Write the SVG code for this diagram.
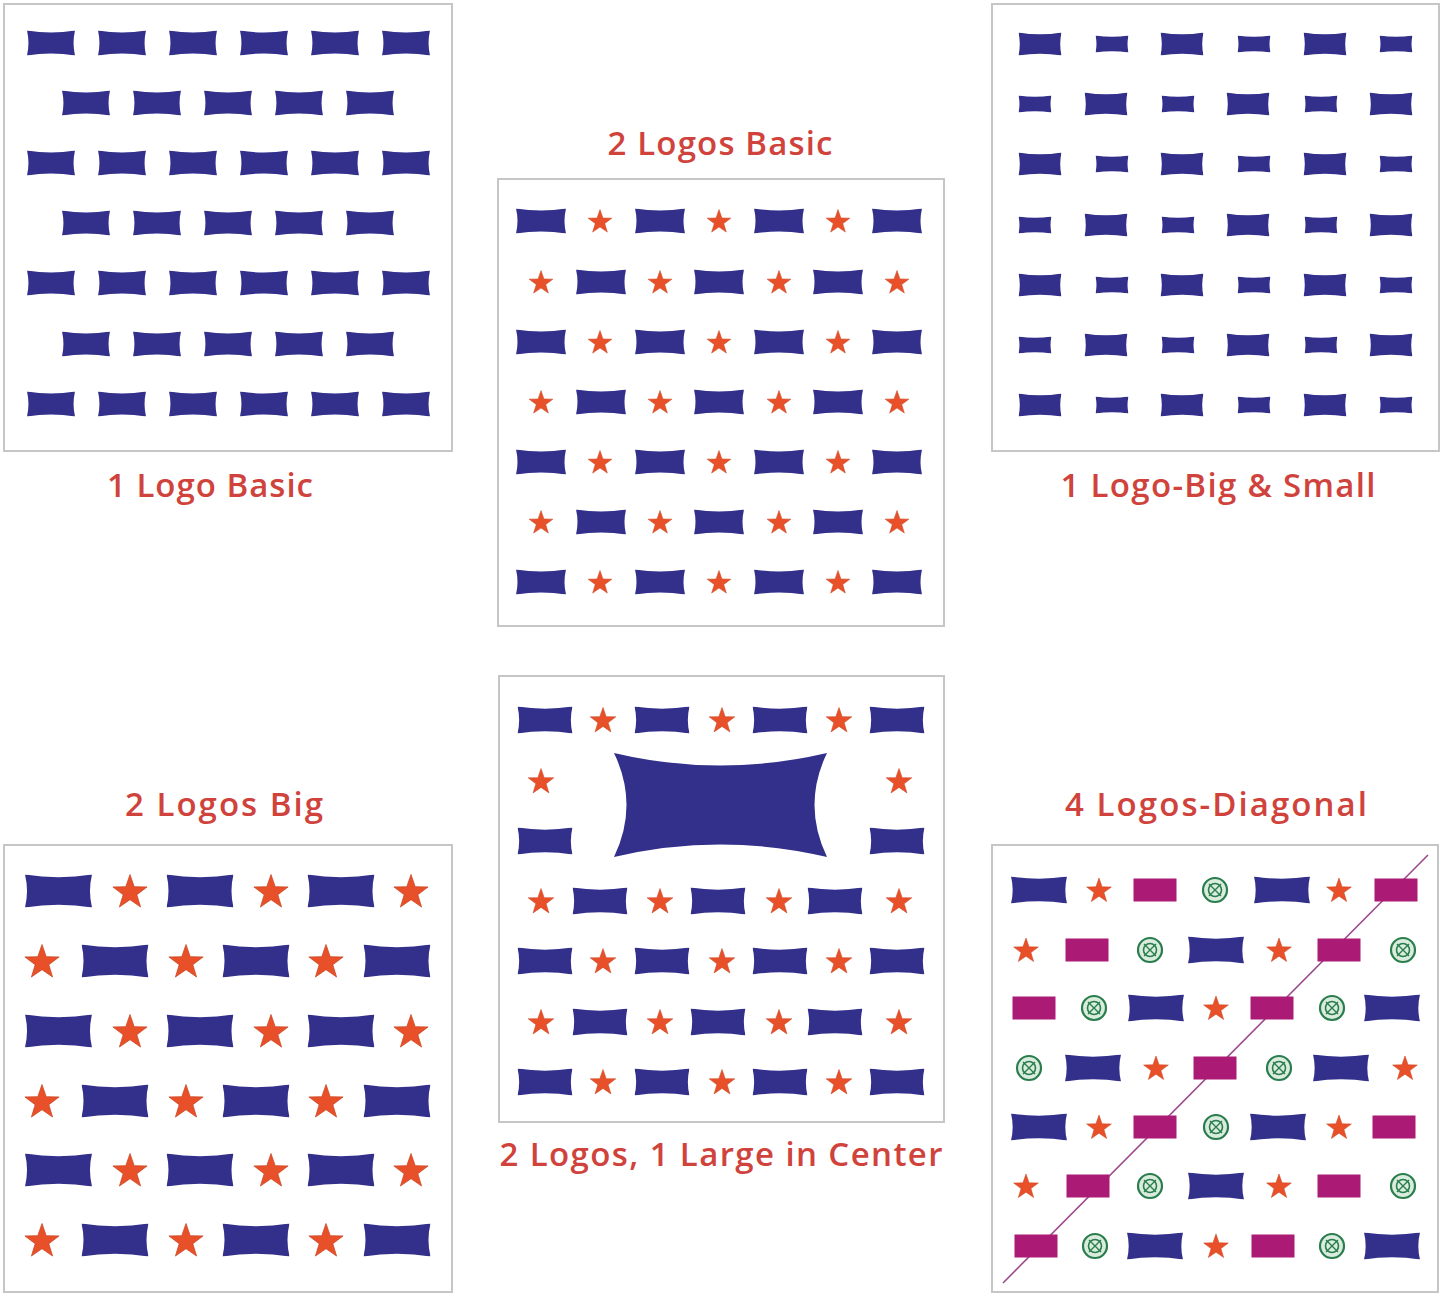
<svg xmlns="http://www.w3.org/2000/svg" xmlns:xlink="http://www.w3.org/1999/xlink" width="1445" height="1298" viewBox="0 0 1445 1298">
<style>
.frame{fill:#fff;stroke:#c6c6c6;stroke-width:2}
.lbl{font-family:"Open Sans","Liberation Sans",sans-serif;font-weight:600;font-size:33px;fill:#d0433c;text-anchor:middle}
.navy{fill:#33308c}
.star{fill:#e8502a;stroke:#c8431f;stroke-width:0.4}
.mag{fill:#ab1a74}
</style>
<defs>
<symbol id="logo" viewBox="0 0 100 50" preserveAspectRatio="none"><path class="navy" d="M0,0 Q50,8 100,0 Q94,25 100,50 Q50,42 0,50 Q6,25 0,0Z"/></symbol>
<path id="star" class="star" d="M0,-10 L2.35,-3.24 L9.51,-3.09 L3.8,1.24 L5.88,8.09 L0,4 L-5.88,8.09 L-3.8,1.24 L-9.51,-3.09 L-2.35,-3.24Z"/>
<g id="gl"><circle r="12" fill="#d9ecdd" stroke="#2a7d4c" stroke-width="2.2"/><circle r="6.5" fill="none" stroke="#2a7d4c" stroke-width="1.6"/><path d="M-6,-6 L6,6 M6,-6 L-6,6" stroke="#2a7d4c" stroke-width="1.4"/></g>
<g id="p1A"><use href="#logo" x="27" y="-12.5" width="48" height="25"/><use href="#logo" x="98" y="-12.5" width="48" height="25"/><use href="#logo" x="169" y="-12.5" width="48" height="25"/><use href="#logo" x="240" y="-12.5" width="48" height="25"/><use href="#logo" x="311" y="-12.5" width="48" height="25"/><use href="#logo" x="382" y="-12.5" width="48" height="25"/></g>
<g id="p1B"><use href="#logo" x="62" y="-12.5" width="48" height="25"/><use href="#logo" x="133" y="-12.5" width="48" height="25"/><use href="#logo" x="204" y="-12.5" width="48" height="25"/><use href="#logo" x="275" y="-12.5" width="48" height="25"/><use href="#logo" x="346" y="-12.5" width="48" height="25"/></g>
<g id="p3A"><use href="#logo" x="1018.5" y="-11.5" width="43" height="23"/><use href="#logo" x="1160.5" y="-11.5" width="43" height="23"/><use href="#logo" x="1303.5" y="-11.5" width="43" height="23"/><use href="#logo" x="1095.5" y="-8.5" width="33" height="17"/><use href="#logo" x="1237.5" y="-8.5" width="33" height="17"/><use href="#logo" x="1379.5" y="-8.5" width="33" height="17"/></g>
<g id="p3B"><use href="#logo" x="1018.5" y="-8.5" width="33" height="17"/><use href="#logo" x="1161.5" y="-8.5" width="33" height="17"/><use href="#logo" x="1304.5" y="-8.5" width="33" height="17"/><use href="#logo" x="1084.5" y="-11.5" width="43" height="23"/><use href="#logo" x="1226.5" y="-11.5" width="43" height="23"/><use href="#logo" x="1369.5" y="-11.5" width="43" height="23"/></g>
<g id="p2A"><use href="#logo" x="516" y="-12.5" width="50" height="25"/><use href="#logo" x="635" y="-12.5" width="50" height="25"/><use href="#logo" x="754" y="-12.5" width="50" height="25"/><use href="#logo" x="872" y="-12.5" width="50" height="25"/><use href="#star" transform="translate(600,1) scale(1.25)"/><use href="#star" transform="translate(719,1) scale(1.25)"/><use href="#star" transform="translate(838,1) scale(1.25)"/></g>
<g id="p2B"><use href="#star" transform="translate(541,1) scale(1.25)"/><use href="#star" transform="translate(660,1) scale(1.25)"/><use href="#star" transform="translate(779,1) scale(1.25)"/><use href="#star" transform="translate(897,1) scale(1.25)"/><use href="#logo" x="576" y="-12.5" width="50" height="25"/><use href="#logo" x="694" y="-12.5" width="50" height="25"/><use href="#logo" x="813" y="-12.5" width="50" height="25"/></g>
<g id="p4A"><use href="#logo" x="25" y="-16.5" width="67" height="33"/><use href="#logo" x="166.5" y="-16.5" width="67" height="33"/><use href="#logo" x="307.5" y="-16.5" width="67" height="33"/><use href="#star" transform="translate(130,1.5) scale(1.8)"/><use href="#star" transform="translate(271,1.5) scale(1.8)"/><use href="#star" transform="translate(411,1.5) scale(1.8)"/></g>
<g id="p4B"><use href="#star" transform="translate(42,1.5) scale(1.8)"/><use href="#star" transform="translate(186,1.5) scale(1.8)"/><use href="#star" transform="translate(326,1.5) scale(1.8)"/><use href="#logo" x="81.5" y="-16.5" width="67" height="33"/><use href="#logo" x="222.5" y="-16.5" width="67" height="33"/><use href="#logo" x="363.5" y="-16.5" width="67" height="33"/></g>
<g id="p5A"><use href="#logo" x="517.5" y="-13.5" width="55" height="27"/><use href="#logo" x="634.5" y="-13.5" width="55" height="27"/><use href="#logo" x="752.5" y="-13.5" width="55" height="27"/><use href="#logo" x="869.5" y="-13.5" width="55" height="27"/><use href="#star" transform="translate(603,1) scale(1.35)"/><use href="#star" transform="translate(722,1) scale(1.35)"/><use href="#star" transform="translate(839,1) scale(1.35)"/></g>
<g id="p5B"><use href="#star" transform="translate(541,1) scale(1.35)"/><use href="#star" transform="translate(660,1) scale(1.35)"/><use href="#star" transform="translate(779,1) scale(1.35)"/><use href="#star" transform="translate(899,1) scale(1.35)"/><use href="#logo" x="572.5" y="-13.5" width="55" height="27"/><use href="#logo" x="690.5" y="-13.5" width="55" height="27"/><use href="#logo" x="807.5" y="-13.5" width="55" height="27"/></g>
</defs>
<rect width="1445" height="1298" fill="#fff"/>

<g id="panel-1-logo-basic">
<rect class="frame" x="4" y="4" width="448" height="447"/>
<use href="#p1A" y="43"/><use href="#p1B" y="103"/><use href="#p1A" y="163"/><use href="#p1B" y="223"/><use href="#p1A" y="283"/><use href="#p1B" y="344"/><use href="#p1A" y="404"/>
<text class="lbl" x="210" y="497" textLength="206" lengthAdjust="spacing">1 Logo Basic</text>
</g>

<g id="panel-2-logos-basic">
<text class="lbl" x="720" y="155" textLength="225" lengthAdjust="spacing">2 Logos Basic</text>
<rect class="frame" x="498" y="179" width="446" height="447"/>
<use href="#p2A" y="221"/><use href="#p2B" y="282"/><use href="#p2A" y="342"/><use href="#p2B" y="402"/><use href="#p2A" y="462"/><use href="#p2B" y="522"/><use href="#p2A" y="582"/>
</g>

<g id="panel-1-logo-big-small">
<rect class="frame" x="992" y="4" width="447" height="447"/>
<use href="#p3A" y="44"/><use href="#p3B" y="104"/><use href="#p3A" y="164"/><use href="#p3B" y="225"/><use href="#p3A" y="285"/><use href="#p3B" y="345"/><use href="#p3A" y="405"/>
<text class="lbl" x="1218" y="497" textLength="315" lengthAdjust="spacing">1 Logo-Big &amp; Small</text>
</g>

<g id="panel-2-logos-big">
<text class="lbl" x="224" y="816" textLength="198" lengthAdjust="spacing">2 Logos Big</text>
<rect class="frame" x="4" y="845" width="448" height="447"/>
<use href="#p4A" y="891"/><use href="#p4B" y="961"/><use href="#p4A" y="1031"/><use href="#p4B" y="1101"/><use href="#p4A" y="1170"/><use href="#p4B" y="1240"/>
</g>

<g id="panel-2-logos-1-large">
<rect class="frame" x="499" y="676" width="445" height="446"/>
<use href="#p5A" y="720"/>
<use href="#star" transform="translate(541,782) scale(1.35)"/><use href="#star" transform="translate(899,782) scale(1.35)"/>
<use href="#logo" x="517.5" y="827.5" width="55" height="27"/><use href="#logo" x="869.5" y="827.5" width="55" height="27"/>
<path class="navy" d="M614,753 Q720,778 827,753 Q802,805 827,857 Q720,832 614,857 Q639,805 614,753Z"/>
<use href="#p5B" y="901"/><use href="#p5A" y="961"/><use href="#p5B" y="1022"/><use href="#p5A" y="1082"/>
<text class="lbl" x="721" y="1166" textLength="443" lengthAdjust="spacing">2 Logos, 1 Large in Center</text>
</g>

<g id="panel-4-logos-diagonal">
<text class="lbl" x="1216" y="816" textLength="302" lengthAdjust="spacing">4 Logos-Diagonal</text>
<rect class="frame" x="992" y="845" width="446" height="447"/>
<line x1="1003" y1="1283" x2="1428" y2="855" stroke="#9c4a8c" stroke-width="1.6"/>
<!-- row 1 -->
<use href="#logo" x="1011" y="876.5" width="56" height="27"/><use href="#star" transform="translate(1099,891) scale(1.3)"/><rect class="mag" x="1133.5" y="878.5" width="43" height="23"/><use href="#gl" x="1215" y="890"/><use href="#logo" x="1254" y="876.5" width="56" height="27"/><use href="#star" transform="translate(1339,891) scale(1.3)"/><rect class="mag" x="1374.5" y="878.5" width="43" height="23"/>
<!-- row 2 -->
<use href="#star" transform="translate(1026,951) scale(1.3)"/><rect class="mag" x="1065.5" y="938.5" width="43" height="23"/><use href="#gl" x="1150" y="950"/><use href="#logo" x="1188" y="936.5" width="56" height="27"/><use href="#star" transform="translate(1279,951) scale(1.3)"/><rect class="mag" x="1317.5" y="938.5" width="43" height="23"/><use href="#gl" x="1403" y="950"/>
<!-- row 3 -->
<rect class="mag" x="1012.5" y="996.5" width="43" height="23"/><use href="#gl" x="1094" y="1008"/><use href="#logo" x="1128" y="994.5" width="56" height="27"/><use href="#star" transform="translate(1216,1009) scale(1.3)"/><rect class="mag" x="1250.5" y="996.5" width="43" height="23"/><use href="#gl" x="1332" y="1008"/><use href="#logo" x="1364" y="994.5" width="56" height="27"/>
<!-- row 4 -->
<use href="#gl" x="1029" y="1068"/><use href="#logo" x="1065" y="1054.5" width="56" height="27"/><use href="#star" transform="translate(1156,1069) scale(1.3)"/><rect class="mag" x="1193.5" y="1056.5" width="43" height="23"/><use href="#gl" x="1279" y="1068"/><use href="#logo" x="1313" y="1054.5" width="56" height="27"/><use href="#star" transform="translate(1405,1069) scale(1.3)"/>
<!-- row 5 -->
<use href="#logo" x="1011" y="1113.5" width="56" height="27"/><use href="#star" transform="translate(1099,1128) scale(1.3)"/><rect class="mag" x="1133.5" y="1115.5" width="43" height="23"/><use href="#gl" x="1216" y="1127"/><use href="#logo" x="1250" y="1113.5" width="56" height="27"/><use href="#star" transform="translate(1339,1128) scale(1.3)"/><rect class="mag" x="1372.5" y="1115.5" width="43" height="23"/>
<!-- row 6 -->
<use href="#star" transform="translate(1026,1187) scale(1.3)"/><rect class="mag" x="1066.5" y="1174.5" width="43" height="23"/><use href="#gl" x="1150" y="1186"/><use href="#logo" x="1188" y="1172.5" width="56" height="27"/><use href="#star" transform="translate(1279,1187) scale(1.3)"/><rect class="mag" x="1317.5" y="1174.5" width="43" height="23"/><use href="#gl" x="1403" y="1186"/>
<!-- row 7 -->
<rect class="mag" x="1014.5" y="1234.5" width="43" height="23"/><use href="#gl" x="1095" y="1246"/><use href="#logo" x="1127" y="1232.5" width="56" height="27"/><use href="#star" transform="translate(1216,1247) scale(1.3)"/><rect class="mag" x="1251.5" y="1234.5" width="43" height="23"/><use href="#gl" x="1332" y="1246"/><use href="#logo" x="1364" y="1232.5" width="56" height="27"/>
</g>
</svg>
